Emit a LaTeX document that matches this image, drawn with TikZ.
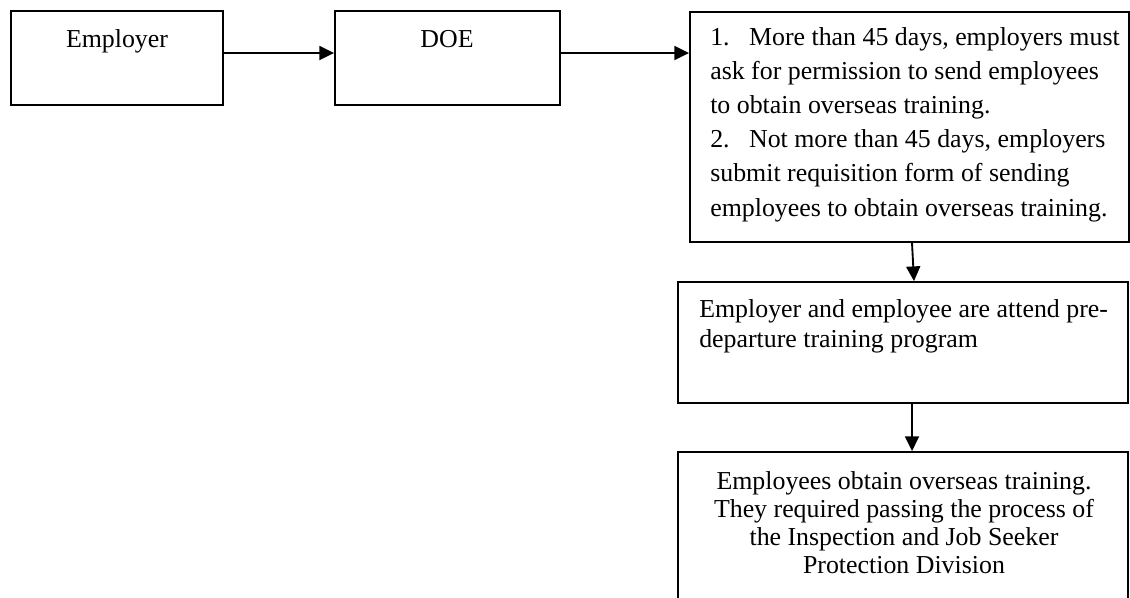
\documentclass[tikz,border=0pt]{standalone}
\usepackage{fontspec}
\setmainfont{Liberation Serif}
\usetikzlibrary{arrows.meta,fit}
\begin{document}
\begin{tikzpicture}[x=0.75pt,y=-0.75pt,
  box/.style={draw=black,line width=1.4pt,inner sep=0pt,fill=none},
  txt/.style={inner sep=0pt,font=\fontsize{19.4}{23}\selectfont},
  arr/.style={line width=1.4pt,-{Triangle[length=11pt,width=10.5pt]}}]
\clip (0,0) rectangle (1130,597);
\fill[white] (0,0) rectangle (1130,597);
% boxes
\node[box,fit={(11,11) (223,105)}] (emp) {};
\node[box,fit={(335,11) (560,105)}] (doe) {};
\node[box,fit={(690,12) (1129,242)}] (big) {};
\node[box,fit={(678,282) (1128,403)}] (att) {};
\node[box,fit={(678,452) (1128,620)}] (obt) {};
% texts (base anchor = baseline of the last line)
\node[txt,anchor=base] (empt) at (117,47) {Employer};
\node[txt,anchor=base] (doet) at (447,47) {DOE};
\node[txt,anchor=base west,align=left,font=\fontsize{19.4}{25.6}\selectfont] (bigt) at (710,216)
 {1.\hspace{0.75em}More than 45 days, employers must\\
  ask for permission to send employees\\
  to obtain overseas training.\\
  2.\hspace{0.75em}Not more than 45 days, employers\\
  submit requisition form of sending\\
  employees to obtain overseas training.};
\node[txt,anchor=base west,align=left,font=\fontsize{19.4}{22.5}\selectfont] (attt) at (699,347)
 {Employer and employee are attend pre-\\departure training program};
\node[txt,anchor=base,align=center,font=\fontsize{19.4}{21}\selectfont] (obtt) at (904,573)
 {Employees obtain overseas training.\\
  They required passing the process of\\
  the Inspection and Job Seeker\\
  Protection Division};
% connectors
\draw[arr] (emp.east |- 0,53) -- (doe.west |- 0,53);
\draw[arr] (doe.east |- 0,53) -- (big.west |- 0,53);
\draw[arr] (big.south -| 912,0) -- (att.north -| 914,0);
\draw[arr] (att.south -| 912,0) -- (obt.north -| 912,0);
\end{tikzpicture}
\end{document}
